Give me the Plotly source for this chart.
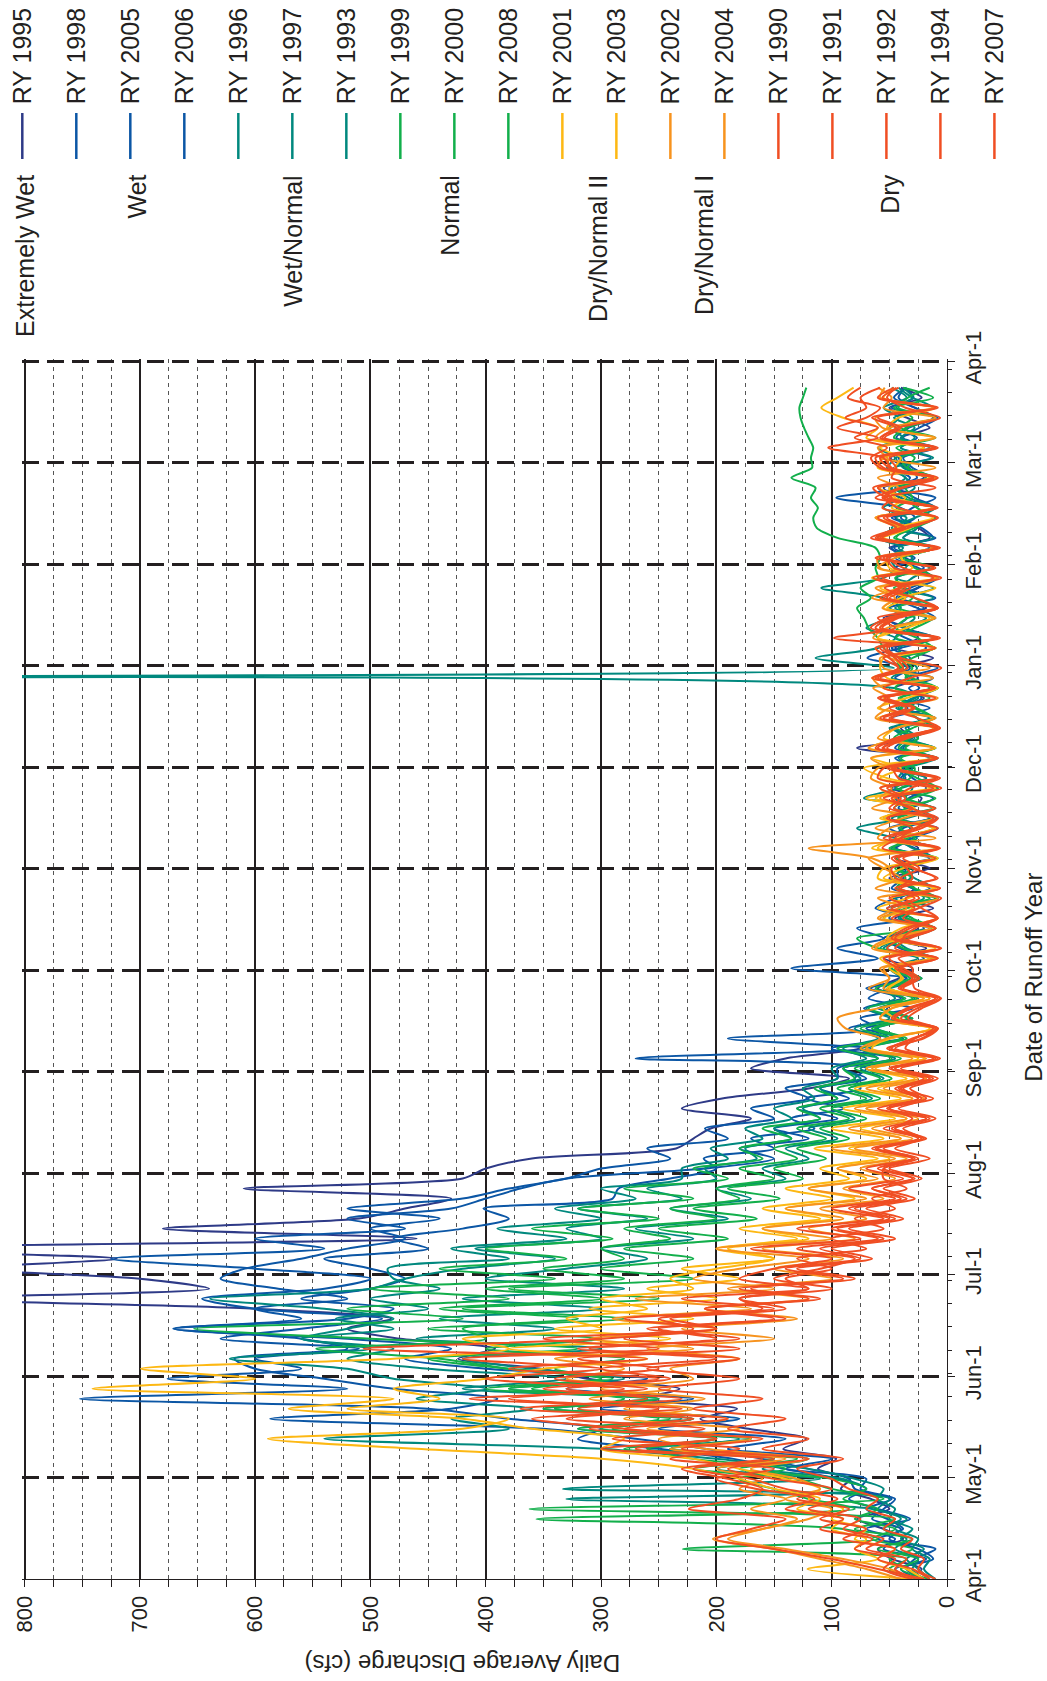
import plotly.graph_objects as go

# ---------------- data (daily average discharge, cfs, every 3rd day from Apr-1) ----------------
DAYS = list(range(0, 358, 3))

RY1995 = [35, 22, 48, 60, 38, 55, 78, 50, 66, 92,
          84, 112, 96, 142, 122, 172, 214, 182, 262, 232, 312,
          352, 424, 392, 474, 520, 482, 600, 880, 640, 700,
          850, 720, 950, 460, 680, 510, 470, 430, 610, 420,
          400, 360, 235, 220, 205, 170, 230, 195, 120, 85,
          170, 140, 75, 58, 62, 45, 52, 38, 60, 42,
          30, 55, 18, 48, 25, 45, 12, 40, 28, 50,
          15, 45, 25, 38, 10, 42, 30, 22, 48, 18,
          35, 12, 78, 30, 40, 15, 35, 20, 45, 25, 40,
          12, 45, 25, 35, 55, 18, 40, 25, 10, 45,
          30, 50, 15, 25, 45, 12, 40, 55, 20, 35,
          49, 20, 40, 15, 35, 50, 22, 40]
RY1998 = [25, 40, 18, 55, 45, 70, 32, 60, 85, 70,
          95, 140, 185, 250, 320, 300, 380, 450, 752, 520, 676,
          560, 600, 510, 630, 560, 490, 600, 646, 540, 500,
          600, 725, 540, 600, 470, 520, 430, 400, 370, 330,
          210, 150, 180, 120, 150, 95, 130, 85, 110, 70,
          90, 45, 95, 40, 70, 30, 60, 25, 70, 35,
          45, 20, 40, 55, 15, 50, 42, 10, 48, 38,
          35, 12, 28, 45, 38, 8, 42, 33, 18, 30,
          38, 15, 45, 32, 10, 26, 36, 22, 33, 12, 42,
          32, 48, 10, 38, 52, 20, 42, 26, 8, 44,
          28, 46, 12, 22, 40, 30, 10, 50, 26, 33,
          42, 12, 38, 24, 8, 48, 29, 37]
RY2005 = [20, 35, 28, 10, 60, 38, 52, 70, 48, 80,
          85, 120, 160, 210, 270, 350, 587, 430, 390, 480, 540,
          600, 618, 520, 560, 670, 520, 480, 560, 500, 470,
          500, 540, 450, 480, 420, 380, 402, 290, 285, 240,
          200, 211, 150, 170, 115, 135, 90, 122, 75, 80,
          70, 270, 65, 190, 60, 75, 30, 68, 50, 22,
          48, 12, 40, 55, 20, 35, 52, 8, 30, 45,
          38, 10, 44, 32, 50, 15, 36, 42, 12, 40,
          30, 45, 10, 38, 33, 48, 15, 40, 24, 35, 8,
          42, 18, 36, 50, 10, 26, 44, 32, 12, 25,
          45, 15, 38, 26, 48, 10, 28, 42, 32, 46,
          14, 40, 26, 45, 10, 28, 42, 36]
RY2006 = [30, 45, 12, 25, 50, 40, 65, 55, 45, 75,
          70, 140, 100, 190, 140, 250, 180, 300, 220, 330, 260,
          400, 470, 430, 520, 671, 560, 600, 520, 580, 630,
          609, 560, 520, 470, 500, 440, 520, 420, 380, 330,
          300, 240, 260, 190, 210, 150, 170, 120, 140, 95,
          95, 60, 100, 50, 85, 45, 72, 40, 66, 35,
          135, 60, 95, 55, 78, 30, 62, 45, 15, 40,
          50, 15, 45, 30, 8, 55, 32, 12, 45, 36,
          42, 10, 38, 25, 48, 12, 40, 28, 10, 45, 32,
          69, 40, 12, 45, 35, 50, 10, 38, 44, 20,
          36, 48, 10, 42, 28, 40, 96, 35, 15, 30,
          38, 10, 44, 33, 12, 28, 46, 35]
RY1996 = [15, 25, 35, 20, 40, 30, 50, 45, 60, 55,
          80, 120, 200, 300, 540, 380, 430, 360, 460, 400, 480,
          520, 622, 500, 560, 480, 530, 450, 500, 440, 480,
          485, 380, 430, 330, 390, 300, 340, 270, 300, 230,
          230, 190, 205, 160, 175, 135, 150, 115, 125, 95,
          100, 70, 90, 60, 80, 50, 70, 45, 55, 40,
          50, 25, 58, 40, 12, 35, 48, 20, 30, 45,
          38, 12, 30, 45, 78, 35, 10, 72, 40, 18,
          45, 12, 40, 28, 50, 15, 42, 30, 8, 48, 35,
          40, 10, 45, 35, 18, 50, 38, 12, 44, 36,
          30, 42, 12, 48, 28, 10, 33, 45, 18, 38,
          44, 15, 40, 28, 46, 12, 30, 42]
RY1997 = [20, 30, 25, 45, 35, 55, 40, 65, 330, 70,
          90, 160, 120, 240, 180, 320, 230, 350, 260, 420, 330,
          450, 520, 480, 560, 520, 480, 540, 639, 500, 470,
          420, 340, 409, 300, 330, 260, 320, 230, 260, 200,
          210, 165, 175, 135, 150, 110, 125, 95, 110, 75,
          90, 60, 75, 50, 62, 42, 55, 38, 50, 32,
          48, 15, 55, 35, 10, 42, 30, 45, 12, 28,
          40, 10, 48, 26, 42, 15, 30, 45, 8, 38,
          30, 42, 12, 36, 45, 10, 40, 25, 46, 1400, 46,
          114, 60, 45, 70, 50, 40, 55, 109, 55, 45,
          50, 38, 60, 45, 35, 55, 42, 48, 36, 52,
          45, 60, 38, 50, 42, 55, 35, 48]
RY1993 = [10, 20, 15, 30, 25, 45, 35, 60, 50, 333,
          110, 200, 150, 260, 170, 300, 220, 340, 250, 380, 280,
          360, 420, 300, 460, 340, 440, 300, 420, 280, 400,
          330, 260, 300, 220, 270, 190, 240, 170, 200, 140,
          160, 120, 140, 95, 120, 80, 100, 65, 85, 55,
          75, 45, 70, 38, 60, 32, 55, 28, 50, 25,
          42, 12, 35, 45, 10, 40, 36, 8, 42, 32,
          30, 44, 10, 38, 32, 48, 12, 36, 30, 42,
          34, 8, 40, 25, 36, 10, 44, 28, 12, 32, 26,
          36, 42, 10, 38, 28, 45, 12, 40, 30, 15,
          42, 10, 38, 26, 44, 12, 40, 28, 36, 45,
          12, 40, 28, 36, 10, 44, 30, 38]
RY1999 = [15, 40, 25, 60, 30, 80, 45, 362, 55, 100,
          130, 220, 150, 280, 200, 320, 240, 350, 260, 400, 300,
          380, 450, 320, 500, 653, 420, 520, 380, 500, 340,
          440, 330, 400, 290, 360, 250, 320, 220, 280, 190,
          220, 160, 180, 135, 160, 110, 130, 95, 115, 80,
          90, 60, 95, 50, 75, 42, 68, 36, 62, 32,
          50, 15, 60, 78, 12, 55, 35, 10, 42, 30,
          45, 10, 50, 28, 40, 12, 46, 30, 8, 26,
          40, 10, 36, 25, 44, 12, 28, 40, 8, 30, 42,
          30, 12, 26, 44, 34, 10, 28, 36, 45, 12,
          38, 10, 44, 33, 12, 26, 36, 42, 10, 35,
          40, 12, 46, 35, 10, 42, 34, 15]
RY2000 = [20, 35, 50, 30, 65, 45, 80, 60, 90, 70,
          100, 180, 130, 240, 170, 300, 220, 340, 250, 380, 290,
          380, 440, 547, 400, 420, 320, 440, 300, 400, 280,
          350, 280, 300, 240, 280, 200, 240, 180, 200, 150,
          180, 130, 150, 105, 130, 85, 110, 70, 95, 58,
          80, 48, 75, 40, 65, 35, 58, 30, 50, 26,
          48, 10, 52, 36, 12, 30, 42, 8, 28, 40,
          32, 44, 10, 38, 30, 42, 12, 35, 40, 10,
          36, 12, 42, 32, 10, 26, 40, 15, 45, 35, 40,
          45, 55, 60, 68, 72, 78, 66, 75, 60, 62,
          58, 62, 95, 113, 116, 112, 118, 114, 135, 117,
          118, 116, 120, 124, 127, 128, 125, 122]
RY2008 = [25, 50, 35, 229, 60, 90, 356, 80, 120, 150,
          180, 140, 220, 260, 200, 290, 250, 320, 280, 360, 300,
          340, 280, 400, 300, 450, 280, 420, 250, 380, 220,
          300, 220, 280, 190, 250, 165, 220, 145, 190, 125,
          150, 105, 130, 85, 110, 70, 100, 58, 85, 48,
          70, 40, 75, 35, 62, 30, 58, 26, 50, 22,
          45, 12, 38, 50, 10, 35, 48, 15, 44, 36,
          40, 8, 46, 34, 12, 42, 36, 10, 44, 32,
          28, 40, 10, 46, 30, 12, 26, 42, 15, 36, 30,
          38, 10, 44, 28, 12, 42, 30, 46, 10, 28,
          40, 12, 46, 28, 10, 44, 30, 36, 12, 34,
          28, 44, 10, 40, 30, 46, 12, 38]
RY2001 = [20, 35, 60, 45, 80, 70, 100, 90, 120, 110,
          140, 180, 220, 300, 280, 360, 420, 571, 480, 741, 600,
          699, 480, 380, 420, 300, 330, 260, 300, 220, 240,
          200, 150, 190, 120, 160, 100, 140, 80, 120, 70,
          95, 50, 85, 40, 75, 35, 70, 30, 60, 28,
          62, 25, 70, 48, 15, 45, 55, 20, 52, 38,
          50, 15, 62, 40, 12, 55, 30, 48, 10, 60,
          55, 12, 65, 40, 10, 58, 28, 70, 15, 52,
          72, 12, 68, 40, 10, 60, 30, 55, 8, 65, 38,
          45, 10, 60, 35, 15, 55, 40, 10, 65, 30,
          40, 12, 55, 32, 62, 10, 45, 50, 15, 60,
          55, 20, 70, 60, 90, 109, 95, 81]
RY2003 = [30, 121, 60, 80, 70, 100, 90, 130, 110, 150,
          180, 220, 300, 460, 589, 420, 380, 520, 440, 480, 400,
          350, 260, 380, 240, 340, 220, 310, 200, 260, 180,
          230, 150, 200, 130, 180, 110, 160, 100, 140, 85,
          110, 60, 115, 55, 100, 45, 90, 40, 80, 35,
          70, 20, 65, 52, 12, 58, 48, 15, 50, 40,
          45, 58, 10, 52, 40, 8, 60, 34, 12, 55,
          38, 8, 60, 42, 12, 55, 32, 62, 10, 58,
          40, 65, 10, 55, 44, 12, 60, 35, 8, 52, 58,
          55, 10, 60, 45, 12, 52, 36, 58, 10, 50,
          52, 10, 56, 44, 12, 48, 36, 60, 10, 45,
          40, 58, 12, 52, 42, 10, 55, 46]
RY2002 = [40, 70, 110, 150, 203, 160, 130, 170, 140, 180,
          160, 200, 140, 240, 170, 260, 190, 280, 210, 300, 220,
          240, 180, 260, 150, 230, 130, 210, 120, 190, 100,
          150, 90, 160, 80, 120, 70, 110, 55, 90, 45,
          75, 35, 80, 30, 65, 25, 70, 20, 55, 18,
          65, 18, 70, 52, 10, 58, 48, 15, 55, 50,
          55, 12, 62, 45, 10, 58, 35, 60, 8, 48,
          50, 65, 120, 10, 62, 38, 12, 58, 48, 66,
          60, 10, 68, 40, 12, 62, 50, 8, 55, 64, 15,
          50, 62, 10, 58, 46, 12, 65, 40, 8, 60,
          45, 10, 58, 40, 62, 12, 55, 42, 60, 10,
          58, 12, 62, 50, 10, 55, 48, 60]
RY2004 = [30, 50, 90, 140, 190, 160, 120, 100, 140, 110,
          130, 170, 120, 210, 250, 180, 280, 220, 310, 240, 330,
          280, 340, 220, 310, 200, 290, 170, 270, 150, 220,
          180, 120, 200, 100, 160, 90, 140, 70, 120, 60,
          95, 45, 100, 40, 85, 35, 80, 30, 70, 25,
          70, 30, 75, 58, 88, 95, 60, 20, 68, 50,
          58, 10, 65, 50, 15, 60, 42, 8, 62, 40,
          55, 68, 10, 60, 50, 12, 65, 45, 58, 10,
          48, 66, 12, 60, 44, 10, 58, 50, 64, 12, 55,
          58, 12, 64, 52, 10, 56, 45, 62, 10, 58,
          60, 10, 56, 44, 62, 12, 48, 58, 10, 50,
          52, 60, 10, 56, 62, 12, 58, 54]
RY1990 = [15, 30, 60, 45, 90, 70, 110, 85, 130, 100,
          150, 190, 120, 230, 160, 280, 190, 320, 230, 350, 250,
          380, 260, 506, 300, 220, 250, 160, 180, 120, 140,
          100, 130, 70, 100, 55, 80, 45, 65, 35, 55,
          55, 30, 62, 25, 48, 18, 52, 22, 40, 15,
          45, 12, 52, 20, 8, 48, 35, 10, 42, 30,
          40, 8, 45, 32, 10, 38, 25, 5, 42, 30,
          35, 48, 8, 40, 30, 52, 10, 44, 32, 6,
          45, 10, 55, 35, 8, 48, 28, 52, 10, 60, 42,
          55, 10, 98, 45, 60, 8, 52, 42, 12, 38,
          50, 8, 60, 38, 55, 10, 62, 40, 12, 48,
          55, 103, 60, 95, 70, 58, 86, 75]
RY1991 = [25, 45, 35, 70, 55, 90, 75, 120, 95, 140,
          170, 220, 150, 300, 200, 280, 360, 230, 414, 260, 340,
          250, 320, 180, 280, 200, 240, 140, 180, 100, 150,
          110, 80, 130, 60, 100, 50, 85, 40, 65, 30,
          60, 28, 55, 20, 45, 15, 50, 25, 38, 12,
          45, 10, 50, 28, 12, 46, 32, 8, 40, 28,
          42, 55, 6, 48, 36, 10, 52, 28, 45, 8,
          30, 45, 8, 55, 28, 12, 50, 40, 58, 10,
          52, 8, 60, 42, 10, 55, 30, 58, 12, 62, 38,
          45, 58, 8, 62, 48, 10, 55, 36, 60, 12,
          58, 10, 62, 40, 8, 56, 48, 60, 12, 55,
          62, 12, 58, 44, 65, 10, 60, 46]
RY1992 = [20, 60, 100, 150, 200, 170, 140, 224, 180, 160,
          190, 230, 160, 270, 200, 310, 220, 370, 260, 330, 240,
          300, 200, 320, 180, 260, 150, 210, 120, 170, 90,
          140, 75, 110, 55, 95, 45, 80, 35, 65, 28,
          55, 25, 60, 18, 45, 30, 50, 12, 42, 20,
          48, 8, 45, 22, 10, 40, 26, 6, 38, 24,
          38, 50, 6, 45, 32, 8, 48, 24, 40, 10,
          28, 42, 8, 50, 26, 10, 46, 36, 52, 8,
          48, 10, 56, 38, 8, 50, 28, 54, 10, 58, 34,
          42, 55, 10, 58, 44, 8, 50, 32, 56, 10,
          55, 8, 58, 36, 52, 10, 56, 38, 8, 50,
          58, 10, 54, 40, 60, 8, 56, 42]
RY1994 = [10, 25, 20, 40, 30, 55, 45, 70, 60, 85,
          100, 130, 90, 160, 120, 190, 140, 220, 160, 250, 180,
          260, 180, 310, 200, 250, 140, 210, 110, 180, 80,
          130, 65, 100, 45, 85, 38, 70, 28, 55, 22,
          50, 15, 45, 22, 38, 10, 42, 18, 32, 8,
          40, 6, 36, 28, 8, 34, 22, 5, 28, 30,
          30, 42, 5, 38, 28, 8, 22, 36, 6, 40,
          24, 38, 6, 45, 22, 8, 32, 48, 5, 42,
          46, 8, 52, 34, 6, 26, 50, 10, 55, 32, 5,
          40, 52, 6, 56, 42, 8, 28, 54, 5, 46,
          52, 6, 56, 34, 8, 42, 54, 10, 48, 44,
          50, 8, 56, 42, 6, 36, 52, 44]
RY2007 = [30, 55, 45, 80, 65, 110, 90, 140, 115, 165,
          200, 150, 240, 180, 290, 210, 330, 250, 380, 280, 400,
          300, 420, 250, 350, 200, 280, 150, 230, 120, 180,
          150, 100, 170, 75, 130, 55, 100, 45, 85, 38,
          70, 30, 65, 22, 55, 18, 60, 25, 45, 15,
          50, 12, 48, 30, 8, 45, 32, 10, 40, 26,
          45, 8, 52, 38, 10, 48, 28, 50, 6, 44,
          48, 10, 56, 40, 8, 52, 30, 55, 12, 60,
          55, 10, 62, 45, 8, 58, 35, 60, 10, 65, 42,
          50, 62, 10, 66, 52, 8, 58, 40, 64, 12,
          62, 10, 66, 44, 60, 8, 52, 64, 12, 58,
          66, 52, 80, 60, 88, 70, 75, 58]

SERIES_NAMES = ["RY 1995", "RY 1998", "RY 2005", "RY 2006", "RY 1996", "RY 1997", "RY 1993",
                "RY 1999", "RY 2000", "RY 2008", "RY 2001", "RY 2003", "RY 2002", "RY 2004",
                "RY 1990", "RY 1991", "RY 1992", "RY 1994", "RY 2007"]
SERIES_VALUES = [RY1995, RY1998, RY2005, RY2006, RY1996, RY1997, RY1993,
                 RY1999, RY2000, RY2008, RY2001, RY2003, RY2002, RY2004,
                 RY1990, RY1991, RY1992, RY1994, RY2007]

GROUP_LABELS = ["Extremely Wet", "Wet", "Wet/Normal", "Normal", "Dry/Normal II", "Dry/Normal I", "Dry"]

MONTH_LABELS = ["Apr-1", "May-1", "Jun-1", "Jul-1", "Aug-1", "Sep-1", "Oct-1",
                "Nov-1", "Dec-1", "Jan-1", "Feb-1", "Mar-1", "Apr-1"]
DISCHARGE_TICKS = [0, 100, 200, 300, 400, 500, 600, 700, 800]

# ---------------- styling ----------------
NAVY, BLUE, TEAL, GREEN = "#2E3A87", "#0B56A5", "#00887E", "#12AF4B"
YELLOW, ORANGE, RED = "#FDB813", "#F7931E", "#F04E23"
COLORS = [NAVY, BLUE, BLUE, BLUE, TEAL, TEAL, TEAL, GREEN, GREEN, GREEN,
          YELLOW, YELLOW, ORANGE, ORANGE, RED, RED, RED, RED, RED]
GROUP_X_PX = [21, 133, 290, 448, 597, 703, 890]
FONT = "Liberation Sans, Arial, Helvetica, sans-serif"
INK = "#231F20"

W, H = 1047, 1681
L, R, T, B = 18, 947, 359, 1579


def px_x(px):
    return (px - L) / (R - L)


def px_y(py):
    return (B - py) / (B - T)


for v in SERIES_VALUES:
    if len(v) != len(DAYS):
        raise ValueError("length mismatch %d" % len(v))

fig = go.Figure()
for name, vals, col in zip(SERIES_NAMES, SERIES_VALUES, COLORS):
    fig.add_trace(go.Scatter(
        x=vals, y=DAYS, mode="lines", name=name,
        line=dict(color=col, width=2.0, shape="spline", smoothing=0.8),
        showlegend=False, hoverinfo="skip"))

month_pos = [k * 365 / 12 for k in range(len(MONTH_LABELS))]

fig.update_layout(
    width=W, height=H,
    margin=dict(l=L, r=W - R, t=T, b=H - B, pad=0),
    paper_bgcolor="white", plot_bgcolor="white",
    font=dict(family=FONT, color=INK),
    showlegend=False,
    xaxis=dict(
        range=[802.2, 0], tickvals=DISCHARGE_TICKS, ticktext=[str(t) for t in DISCHARGE_TICKS],
        tickangle=-90, tickfont=dict(size=22, color=INK, family=FONT),
        ticks="outside", ticklen=7, tickwidth=1, tickcolor=INK,
        showgrid=True, gridcolor=INK, gridwidth=1.6,
        minor=dict(dtick=25, tick0=0, ticks="outside", ticklen=7, tickcolor=INK, tickwidth=1,
                   showgrid=True, gridcolor="#555555", gridwidth=1, griddash="4px,4px"),
        showline=True, linecolor=INK, linewidth=1, zeroline=False, fixedrange=True,
    ),
    yaxis=dict(
        range=[0, 365.6], side="right", tickvals=month_pos, ticktext=MONTH_LABELS,
        tickangle=-90, tickfont=dict(size=22, color=INK, family=FONT),
        ticks="outside", ticklen=7, tickwidth=1, tickcolor=INK,
        showgrid=True, gridcolor=INK, gridwidth=2.5, griddash="17px,8px",
        minor=dict(dtick=7, tick0=5.6, ticks="outside", ticklen=4, tickcolor=INK, tickwidth=1,
                   showgrid=False),
        showline=True, linecolor=INK, linewidth=1, zeroline=False, fixedrange=True,
    ),
)

shapes = []
annotations = []
slot_px = [18.3 + 54.24 * i for i in range(len(SERIES_NAMES))]
for name, col, xp in zip(SERIES_NAMES, COLORS, slot_px):
    shapes.append(dict(type="line", xref="paper", yref="paper",
                       x0=px_x(xp), x1=px_x(xp), y0=px_y(113), y1=px_y(159),
                       line=dict(color=col, width=2.5)))
    annotations.append(dict(text=name, xref="paper", yref="paper", x=px_x(xp), y=px_y(106),
                            xanchor="center", yanchor="bottom", textangle=-90, showarrow=False,
                            font=dict(size=25, color=INK, family=FONT)))
for label, xp in zip(GROUP_LABELS, GROUP_X_PX):
    annotations.append(dict(text=label, xref="paper", yref="paper", x=px_x(xp), y=px_y(173),
                            xanchor="center", yanchor="top", textangle=-90, showarrow=False,
                            font=dict(size=25, color=INK, family=FONT)))

annotations.append(dict(text="Daily Average Discharge (cfs)", xref="paper", yref="paper",
                        x=px_x(460), y=px_y(1664), xanchor="center", yanchor="middle",
                        textangle=180, showarrow=False, font=dict(size=24, color=INK, family=FONT)))
annotations.append(dict(text="Date of Runoff Year", xref="paper", yref="paper",
                        x=px_x(1034), y=px_y(977), xanchor="center", yanchor="middle",
                        textangle=-90, showarrow=False, font=dict(size=24, color=INK, family=FONT)))

fig.update_layout(shapes=shapes, annotations=annotations)
fig.write_html("out.html")
